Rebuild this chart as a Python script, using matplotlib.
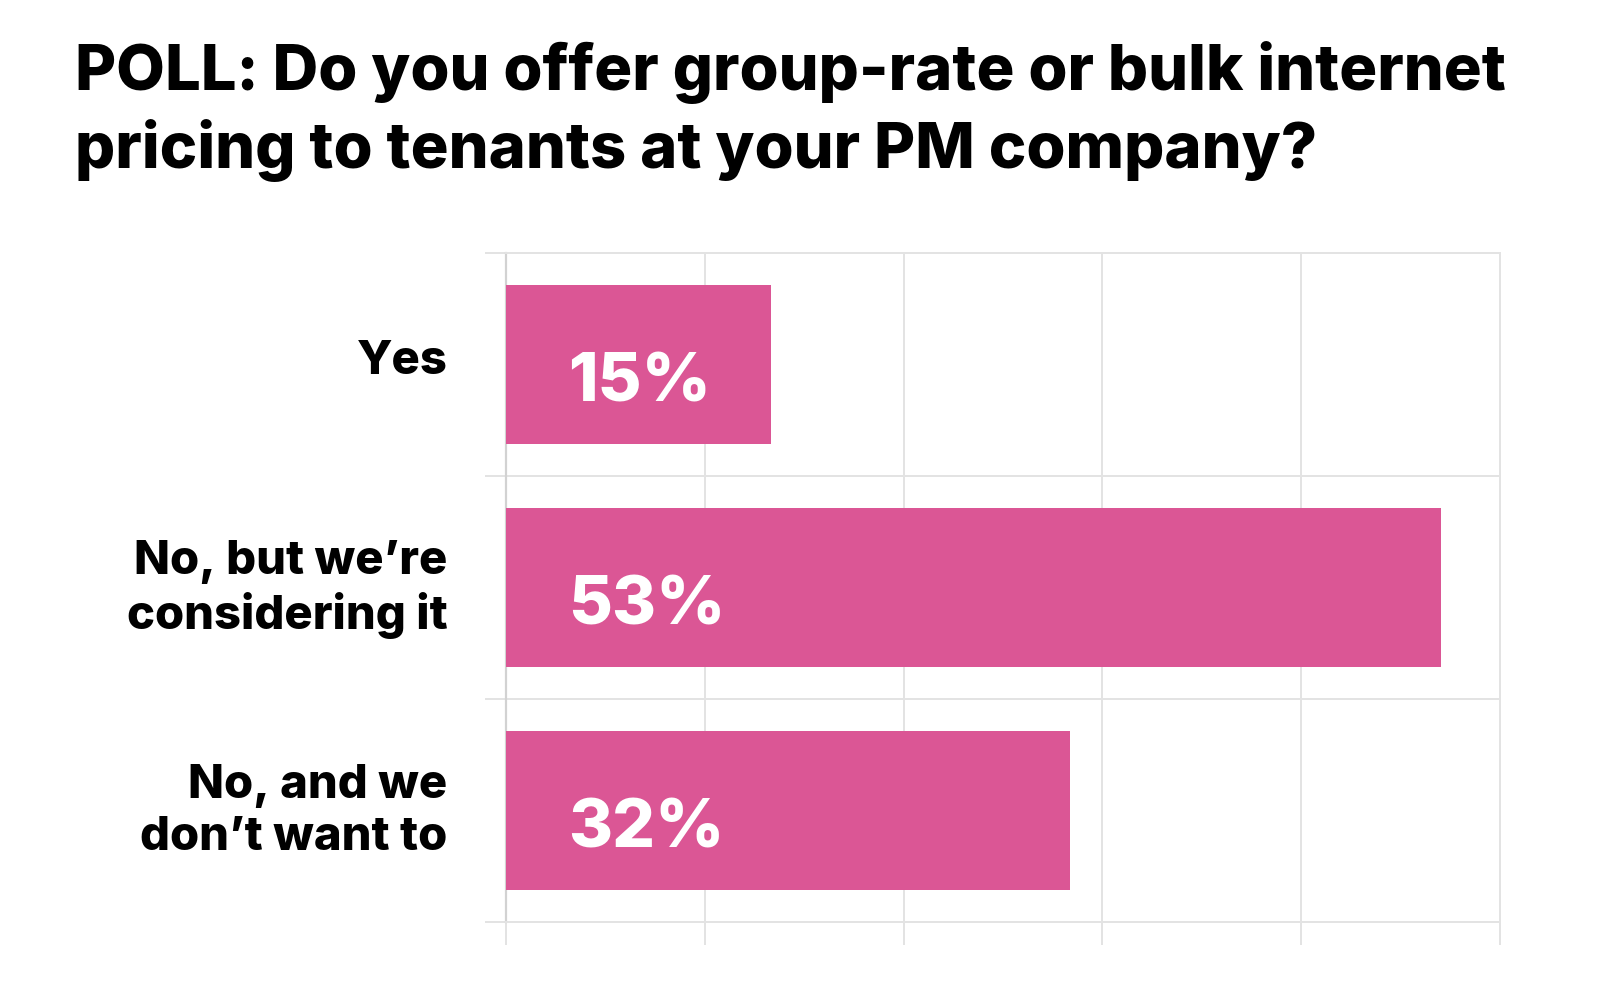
import matplotlib.pyplot as plt
from matplotlib.ticker import FixedLocator
from matplotlib.transforms import ScaledTranslation

plt.rcParams['font.family'] = ['Inter', 'DejaVu Sans']

title = 'POLL: Do you offer group-rate or bulk internet\npricing to tenants at your PM company?'
categories = ['Yes', 'No, but we\u2019re\nconsidering it', 'No, and we\ndon\u2019t want to']
values = [15, 53, 32]
x_max = 56.35

bar_color = '#DB5695'
grid_color = '#E3E3E3'

fig = plt.figure(figsize=(16, 9.82), dpi=100)
ax = fig.add_axes([0.31625, 0.0611, 0.62125, 0.6813])

ypos = list(range(len(categories)))
ax.barh(ypos, values, height=0.71, color=bar_color, zorder=3)

# value labels inside bars
for y, v in zip(ypos, values):
    ax.annotate(f'{v}%', xy=(0, y), xytext=(44.5, -27), textcoords='offset points',
                ha='left', va='baseline', color='white', fontsize=48.5, fontweight='heavy',
                zorder=4)

ax.set_xlim(0, x_max)
ax.set_ylim(len(categories) - 0.5, -0.5)

# vertical grid
ax.xaxis.set_major_locator(FixedLocator([x_max * k / 5 for k in range(6)]))
ax.tick_params(axis='x', which='major', length=16.5, width=1.4, color=grid_color,
               labelbottom=False)
ax.grid(axis='x', color=grid_color, linewidth=1.4, zorder=0)

# horizontal grid at category boundaries
ax.set_yticks(ypos)
ax.set_yticklabels(categories, fontsize=34, fontweight='heavy', linespacing=1.22)
ax.tick_params(axis='y', which='major', length=0, pad=42)
shift = ScaledTranslation(0, 0.07, fig.dpi_scale_trans)
for lab in ax.get_yticklabels():
    lab.set_transform(lab.get_transform() + shift)
ax.yaxis.set_minor_locator(FixedLocator([-0.5, 0.5, 1.5, 2.5]))
ax.tick_params(axis='y', which='minor', length=15, width=1.4, color=grid_color)
ax.grid(axis='y', which='minor', color=grid_color, linewidth=1.4, zorder=0)

for s in ['top', 'right', 'bottom']:
    ax.spines[s].set_color(grid_color)
    ax.spines[s].set_linewidth(1.4)
ax.spines['left'].set_color('#D2D2D2')
ax.spines['left'].set_linewidth(1.6)

fig.text(0.047, 0.958, title, ha='left', va='top', fontsize=45.5, fontweight='heavy',
         linespacing=1.3, color='black')

fig.savefig('out.png', dpi=100, facecolor='white')
